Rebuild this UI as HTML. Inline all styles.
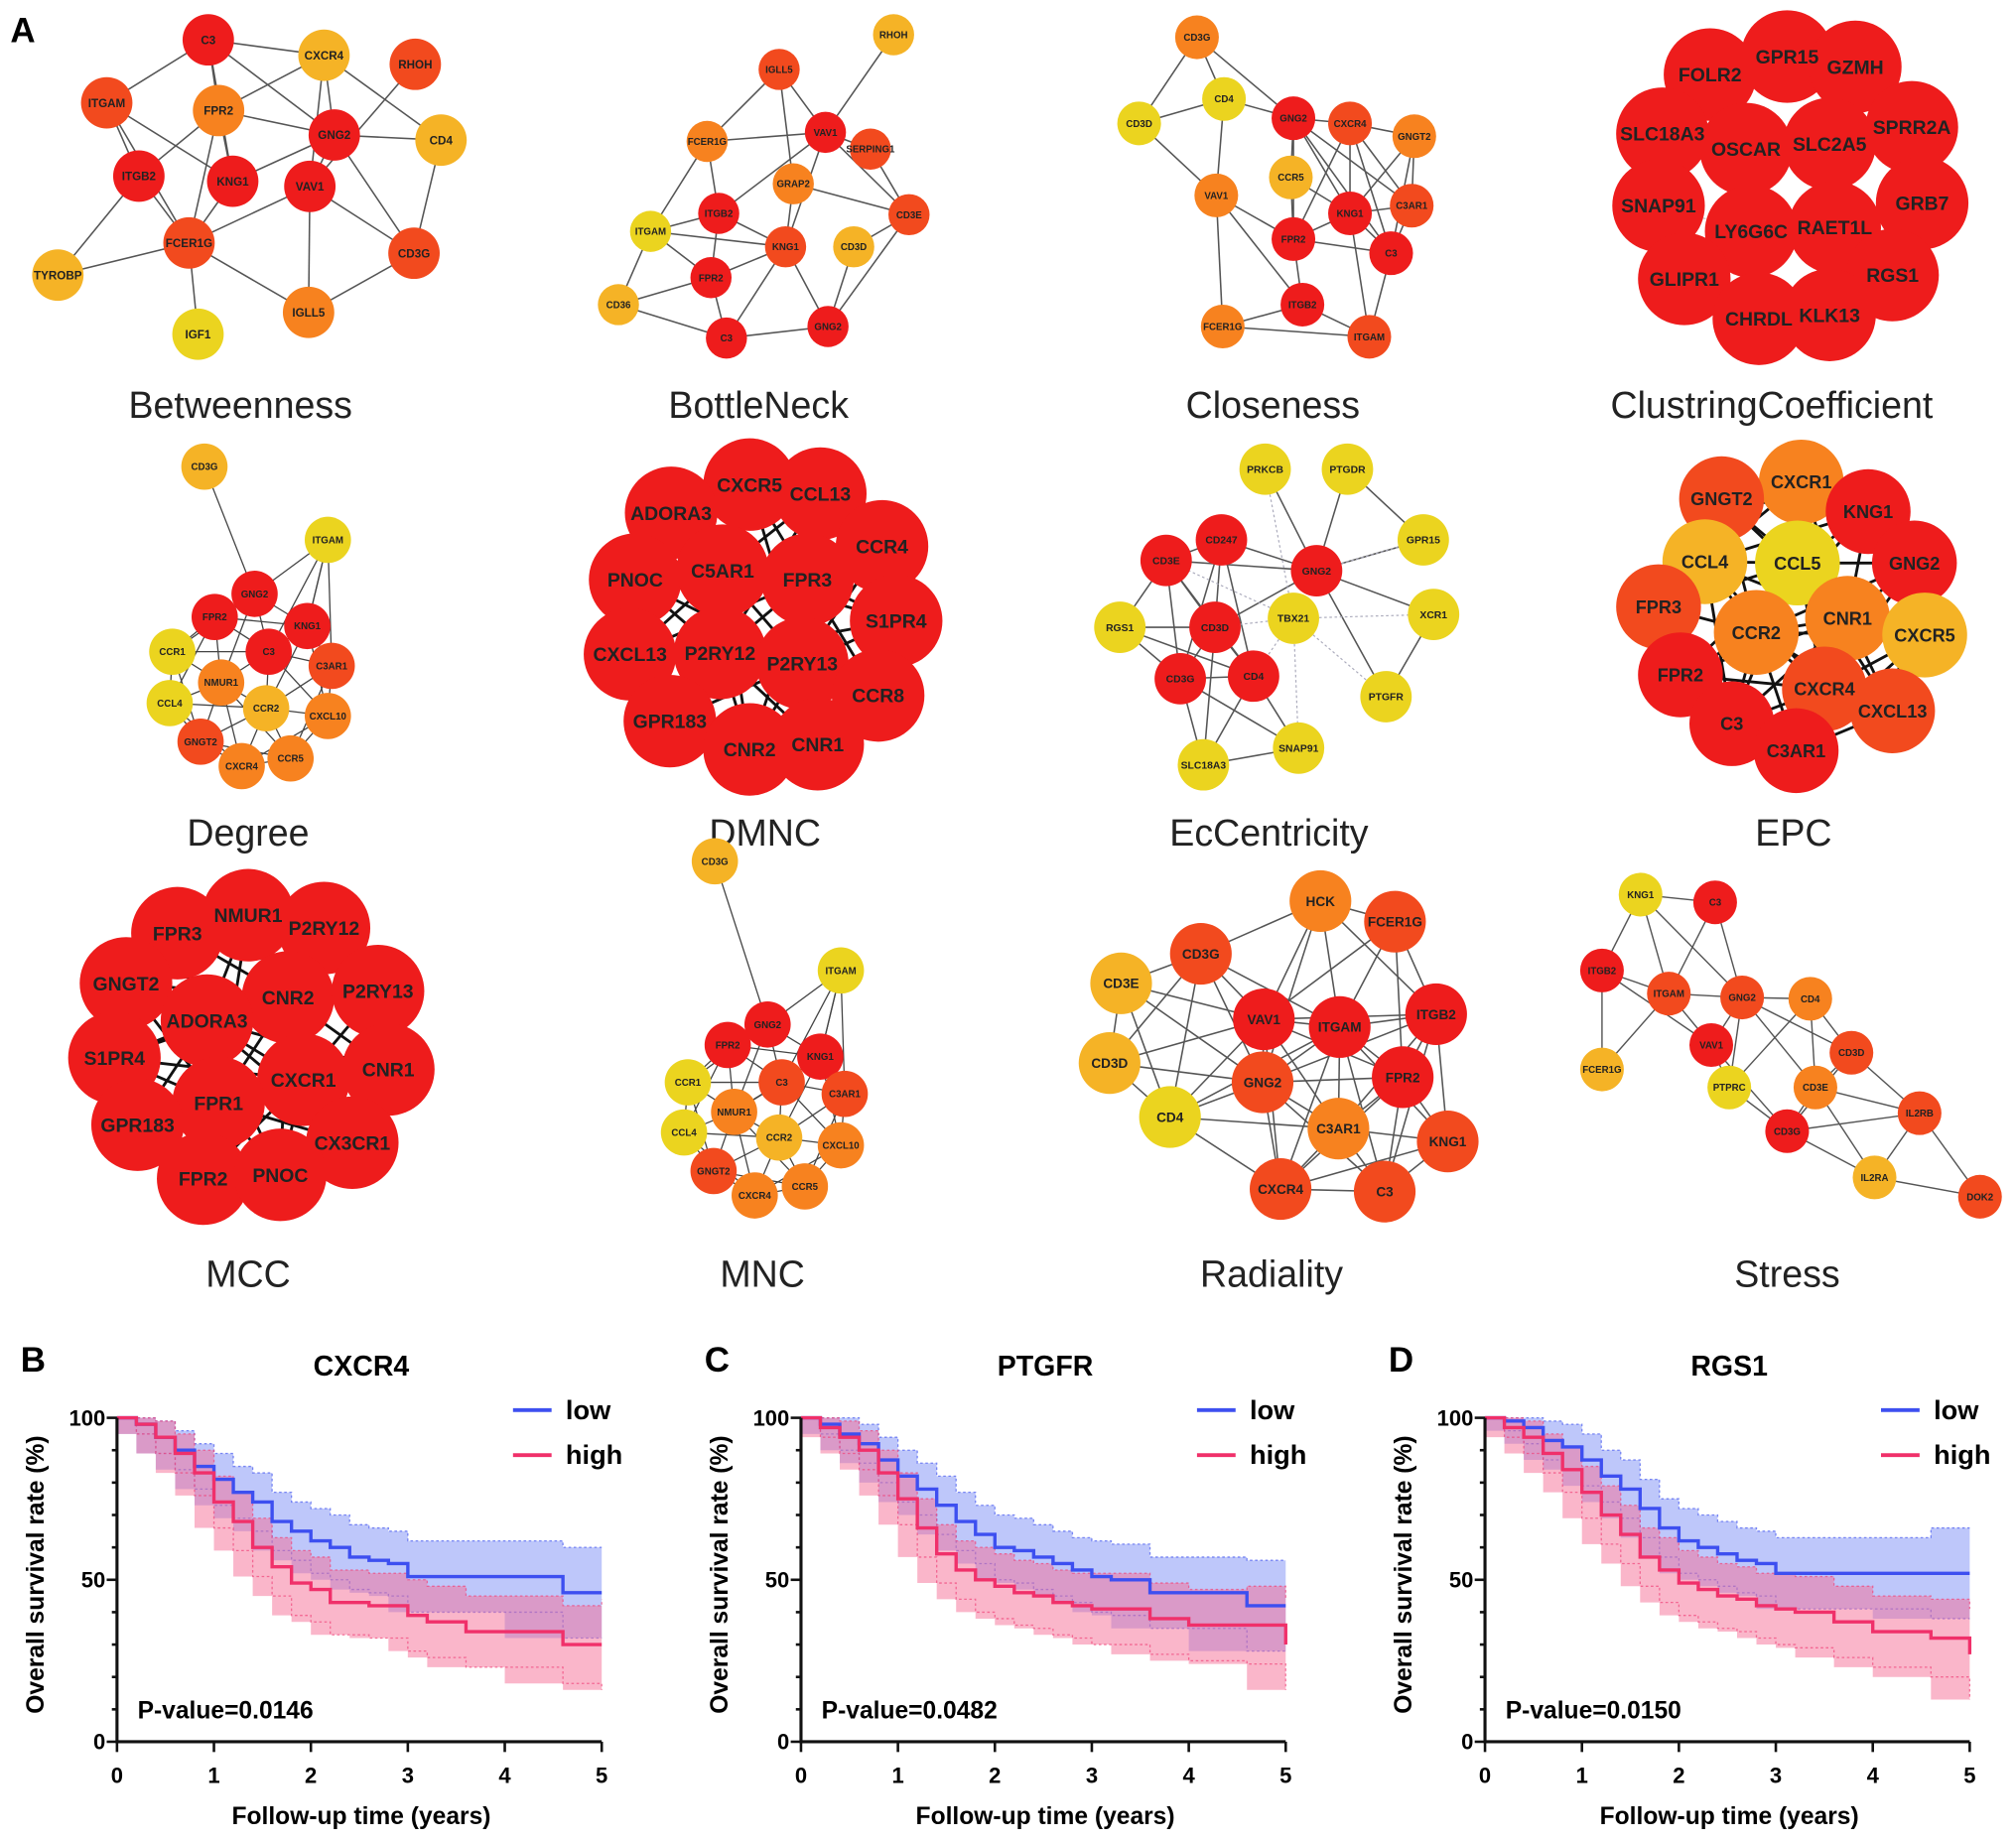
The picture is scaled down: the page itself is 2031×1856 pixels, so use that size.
<!DOCTYPE html>
<html><head><meta charset="utf-8"><style>
html,body{margin:0;padding:0;background:#fff}
svg{display:block}
text{font-family:"Liberation Sans",Arial,sans-serif}
</style></head><body>
<svg id="fig" width="2031" height="1856" viewBox="0 0 1568 1433" preserveAspectRatio="none" xmlns="http://www.w3.org/2000/svg">
<g id="nets"></g>
<g id="kms"></g>
<text x="8" y="33" font-size="27" font-weight="bold">A</text>
</svg>
<script>
const NS="http://www.w3.org/2000/svg";
const COL={R:'#ee1c1c',OR:'#f24a1e',O:'#f7821f',YO:'#f5b326',Y:'#ebd41f'};
function mk(tag,attrs,parent){const e=document.createElementNS(NS,tag);for(const k in attrs)e.setAttribute(k,attrs[k]);parent.appendChild(e);return e;}

const panels=[
{title:'Betweenness',tx:187,ty:325,r:20,fs:9,sw:1.2,nodes:[['C3',162,31,'R'],['CXCR4',252,43,'YO'],['RHOH',323,50,'OR'],['ITGAM',83,80,'OR'],['FPR2',170,86,'O'],['GNG2',260,105,'R'],['CD4',343,109,'YO'],['ITGB2',108,137,'R'],['KNG1',181,141,'R'],['VAV1',241,145,'R'],['FCER1G',147,189,'OR'],['CD3G',322,197,'OR'],['TYROBP',45,214,'YO'],['IGLL5',240,243,'O'],['IGF1',154,260,'Y']],
edges:[['C3','ITGAM'],['C3','FPR2'],['C3','CXCR4'],['C3','GNG2'],['C3','KNG1'],['CXCR4','GNG2'],['CXCR4','FPR2'],['CXCR4','CD4'],['CXCR4','VAV1'],['GNG2','CD4'],['GNG2','FPR2'],['GNG2','VAV1'],['GNG2','KNG1'],['RHOH','VAV1'],['ITGAM','ITGB2'],['ITGAM','FCER1G'],['ITGAM','KNG1'],['ITGB2','FCER1G'],['ITGB2','TYROBP'],['ITGB2','FPR2'],['FPR2','KNG1'],['FPR2','FCER1G'],['KNG1','FCER1G'],['VAV1','FCER1G'],['VAV1','CD3G'],['VAV1','IGLL5'],['CD4','CD3G'],['GNG2','CD3G'],['FCER1G','TYROBP'],['FCER1G','IGF1'],['FCER1G','IGLL5'],['CD3G','IGLL5']]},
{title:'BottleNeck',tx:590,ty:325,r:16,fs:7.5,sw:1.2,nodes:[['RHOH',695,27,'YO'],['IGLL5',606,54,'OR'],['VAV1',642,103,'R'],['SERPING1',677,116,'OR'],['FCER1G',550,110,'O'],['GRAP2',617,143,'O'],['CD3E',707,167,'OR'],['ITGB2',559,166,'R'],['ITGAM',506,180,'Y'],['KNG1',611,192,'OR'],['CD3D',664,192,'YO'],['FPR2',553,216,'R'],['CD36',481,237,'YO'],['C3',565,263,'R'],['GNG2',644,254,'R']],
edges:[['RHOH','VAV1'],['IGLL5','FCER1G'],['IGLL5','VAV1'],['IGLL5','GRAP2'],['VAV1','SERPING1'],['VAV1','FCER1G'],['VAV1','CD3E'],['VAV1','ITGB2'],['VAV1','KNG1'],['FCER1G','ITGB2'],['FCER1G','ITGAM'],['SERPING1','CD3E'],['GRAP2','CD3E'],['GRAP2','KNG1'],['CD3E','CD3D'],['CD3E','GNG2'],['ITGB2','ITGAM'],['ITGB2','FPR2'],['ITGB2','KNG1'],['ITGAM','FPR2'],['ITGAM','CD36'],['ITGAM','KNG1'],['KNG1','FPR2'],['KNG1','C3'],['KNG1','GNG2'],['CD3D','GNG2'],['FPR2','C3'],['FPR2','CD36'],['C3','GNG2'],['C3','CD36']]},
{title:'Closeness',tx:990,ty:325,r:17,fs:7.5,sw:1.2,nodes:[['CD3G',931,29,'O'],['CD4',952,77,'Y'],['CD3D',886,96,'Y'],['GNG2',1006,92,'R'],['CXCR4',1050,96,'OR'],['GNGT2',1100,106,'O'],['CCR5',1004,138,'YO'],['VAV1',946,152,'O'],['C3AR1',1098,160,'OR'],['KNG1',1050,166,'R'],['FPR2',1006,186,'R'],['C3',1082,197,'R'],['ITGB2',1013,237,'R'],['FCER1G',951,254,'O'],['ITGAM',1065,262,'OR']],
edges:[['CD3G','CD4'],['CD3G','CD3D'],['CD3G','GNG2'],['CD4','CD3D'],['CD4','GNG2'],['CD4','VAV1'],['CD3D','VAV1'],['GNG2','CXCR4'],['GNG2','CCR5'],['GNG2','KNG1'],['GNG2','FPR2'],['GNG2','C3'],['GNG2','C3AR1'],['CXCR4','GNGT2'],['CXCR4','KNG1'],['CXCR4','C3AR1'],['CXCR4','FPR2'],['CXCR4','C3'],['GNGT2','KNG1'],['GNGT2','C3AR1'],['CCR5','KNG1'],['CCR5','FPR2'],['C3AR1','KNG1'],['C3AR1','C3'],['KNG1','FPR2'],['KNG1','C3'],['FPR2','ITGB2'],['FPR2','C3'],['C3','ITGAM'],['ITGB2','ITGAM'],['ITGB2','FCER1G'],['FCER1G','ITGAM'],['VAV1','FCER1G'],['VAV1','FPR2'],['VAV1','ITGB2'],['KNG1','ITGAM'],['GNGT2','C3']]},
{title:'ClustringCoefficient',tx:1378,ty:325,r:36,fs:15,sw:0.8,auto:75,ecol:'#bbb',dash:'2,2',nodes:[['GPR15',1390,44,'R'],['FOLR2',1330,58,'R'],['GZMH',1443,52,'R'],['SLC18A3',1293,104,'R'],['SPRR2A',1487,99,'R'],['OSCAR',1358,116,'R'],['SLC2A5',1423,112,'R'],['SNAP91',1290,160,'R'],['GRB7',1495,158,'R'],['LY6G6C',1362,180,'R'],['RAET1L',1427,177,'R'],['GLIPR1',1310,217,'R'],['RGS1',1472,214,'R'],['CHRDL',1368,248,'R'],['KLK13',1423,245,'R']]},
{title:'Degree',tx:193,ty:658,r:18,fs:7.5,sw:1,auto:80,ecol:'#444',nodes:[['CD3G',159,363,'YO'],['ITGAM',255,420,'Y'],['GNG2',198,462,'R'],['FPR2',167,480,'R'],['KNG1',239,487,'R'],['C3',209,507,'R'],['CCR1',134,507,'Y'],['C3AR1',258,518,'OR'],['NMUR1',172,531,'O'],['CCL4',132,547,'Y'],['CCR2',207,551,'YO'],['CXCL10',255,557,'O'],['GNGT2',156,577,'OR'],['CCR5',226,590,'O'],['CXCR4',188,596,'O']],
extra:[['CD3G','GNG2'],['ITGAM','KNG1'],['ITGAM','C3'],['ITGAM','C3AR1']]},
{title:'DMNC',tx:595,ty:658,r:36,fs:15,sw:2.2,auto:150,ecol:'#111',nodes:[['CXCR5',583,377,'R'],['CCL13',638,384,'R'],['ADORA3',522,399,'R'],['CCR4',686,425,'R'],['PNOC',494,451,'R'],['C5AR1',562,444,'R'],['FPR3',628,451,'R'],['S1PR4',697,483,'R'],['CXCL13',490,509,'R'],['P2RY12',560,508,'R'],['P2RY13',624,516,'R'],['CCR8',683,541,'R'],['GPR183',521,561,'R'],['CNR2',583,583,'R'],['CNR1',636,579,'R']]},
{title:'EcCentricity',tx:987,ty:658,r:20,fs:8,sw:1.2,nodes:[['PRKCB',984,365,'Y'],['PTGDR',1048,365,'Y'],['CD247',950,420,'R'],['GPR15',1107,420,'Y'],['CD3E',907,436,'R'],['GNG2',1024,444,'R'],['RGS1',871,488,'Y'],['CD3D',945,488,'R'],['TBX21',1006,481,'Y'],['XCR1',1115,478,'Y'],['CD3G',918,528,'R'],['CD4',975,526,'R'],['PTGFR',1078,542,'Y'],['SNAP91',1010,582,'Y'],['SLC18A3',936,595,'Y']],
edges:[['CD3E','CD247'],['CD3E','CD3D'],['CD3E','CD3G'],['CD3E','RGS1'],['CD3E','CD4'],['CD3E','GNG2'],['CD247','CD3D'],['CD247','CD4'],['CD247','GNG2'],['CD247','CD3G'],['CD3D','CD3G'],['CD3D','CD4'],['CD3G','CD4'],['RGS1','CD3D'],['RGS1','CD3G'],['RGS1','CD4'],['CD4','SLC18A3'],['CD4','SNAP91'],['CD3G','SLC18A3'],['CD3G','SNAP91'],['SLC18A3','SNAP91'],['GNG2','PRKCB'],['GNG2','PTGDR'],['GNG2','GPR15'],['GNG2','XCR1'],['GNG2','PTGFR'],['GNG2','CD3D'],['PTGDR','GPR15'],['XCR1','PTGFR'],['CD3D','SLC18A3']],
dashed:[['TBX21','PRKCB'],['TBX21','XCR1'],['TBX21','SNAP91'],['TBX21','PTGFR'],['TBX21','CD3D'],['TBX21','CD4'],['TBX21','CD3E'],['GNG2','GPR15']]},
{title:'EPC',tx:1395,ty:658,r:33,fs:14,sw:2.2,auto:140,ecol:'#111',nodes:[['CXCR1',1401,375,'O'],['GNGT2',1339,388,'OR'],['KNG1',1453,398,'R'],['CCL4',1326,437,'YO'],['CCL5',1398,438,'Y'],['GNG2',1489,438,'R'],['FPR3',1290,472,'OR'],['CNR1',1437,481,'O'],['CCR2',1366,492,'O'],['CXCR5',1497,494,'YO'],['FPR2',1307,525,'R'],['CXCR4',1419,536,'OR'],['CXCL13',1472,553,'OR'],['C3',1347,563,'R'],['C3AR1',1397,584,'R']]},
{title:'MCC',tx:193,ty:1001,r:36,fs:15,sw:2.2,auto:150,ecol:'#111',nodes:[['NMUR1',193,712,'R'],['FPR3',138,726,'R'],['P2RY12',252,722,'R'],['GNGT2',98,765,'R'],['CNR2',224,776,'R'],['P2RY13',294,771,'R'],['ADORA3',161,794,'R'],['S1PR4',89,823,'R'],['CNR1',302,832,'R'],['CXCR1',236,840,'R'],['FPR1',170,858,'R'],['GPR183',107,875,'R'],['CX3CR1',274,889,'R'],['FPR2',158,917,'R'],['PNOC',218,914,'R']]},
{title:'MNC',tx:593,ty:1001,r:18,fs:7.5,sw:1,auto:80,ecol:'#444',nodes:[['CD3G',556,670,'YO'],['ITGAM',654,755,'Y'],['GNG2',597,797,'R'],['FPR2',566,813,'R'],['KNG1',638,822,'R'],['C3',608,842,'OR'],['CCR1',535,842,'Y'],['C3AR1',657,851,'OR'],['NMUR1',571,865,'O'],['CCL4',532,881,'Y'],['CCR2',606,885,'YO'],['CXCL10',654,891,'O'],['GNGT2',555,911,'OR'],['CCR5',626,923,'O'],['CXCR4',587,930,'O']],
extra:[['CD3G','GNG2'],['ITGAM','KNG1'],['ITGAM','C3'],['ITGAM','C3AR1']]},
{title:'Radiality',tx:989,ty:1001,r:24,fs:10.5,sw:1.2,auto:150,ecol:'#555',nodes:[['HCK',1027,701,'O'],['FCER1G',1085,717,'OR'],['CD3G',934,742,'OR'],['CD3E',872,765,'YO'],['VAV1',983,793,'R'],['ITGAM',1042,799,'R'],['ITGB2',1117,789,'R'],['CD3D',863,827,'YO'],['GNG2',982,842,'OR'],['FPR2',1091,838,'R'],['CD4',910,869,'Y'],['C3AR1',1041,878,'O'],['KNG1',1126,888,'OR'],['CXCR4',996,925,'OR'],['C3',1077,927,'OR']]},
{title:'Stress',tx:1390,ty:1001,r:17,fs:7.5,sw:1.1,nodes:[['KNG1',1276,696,'Y'],['C3',1334,702,'R'],['ITGB2',1246,755,'R'],['ITGAM',1298,773,'OR'],['GNG2',1355,776,'OR'],['CD4',1408,777,'O'],['VAV1',1331,813,'R'],['CD3D',1440,819,'OR'],['FCER1G',1246,832,'YO'],['PTPRC',1345,846,'Y'],['CD3E',1412,846,'O'],['CD3G',1390,880,'R'],['IL2RB',1493,866,'OR'],['IL2RA',1458,916,'YO'],['DOK2',1540,931,'OR']],
edges:[['KNG1','C3'],['KNG1','ITGB2'],['KNG1','ITGAM'],['KNG1','GNG2'],['C3','ITGAM'],['C3','GNG2'],['ITGB2','ITGAM'],['ITGB2','FCER1G'],['ITGB2','VAV1'],['ITGAM','FCER1G'],['ITGAM','VAV1'],['ITGAM','GNG2'],['GNG2','CD4'],['GNG2','VAV1'],['GNG2','CD3D'],['GNG2','PTPRC'],['GNG2','CD3E'],['CD4','CD3D'],['CD4','CD3E'],['CD4','PTPRC'],['VAV1','PTPRC'],['VAV1','CD3G'],['CD3D','CD3E'],['CD3D','CD3G'],['CD3D','IL2RB'],['CD3E','CD3G'],['CD3E','IL2RB'],['CD3E','IL2RA'],['PTPRC','CD3G'],['CD3G','IL2RA'],['IL2RB','IL2RA'],['IL2RB','DOK2'],['IL2RA','DOK2'],['CD3G','IL2RB']]}
];

const nets=document.getElementById('nets');
panels.forEach((p,pi)=>{
  const g=mk('g',{},nets);
  
  
  const idx={};p.nodes.forEach(n=>idx[n[0]]=n);
  let list=[];
  if(p.auto){for(let i=0;i<p.nodes.length;i++)for(let j=i+1;j<p.nodes.length;j++){const a=p.nodes[i],b=p.nodes[j];if(Math.hypot(a[1]-b[1],a[2]-b[2])<p.auto)list.push([a[0],b[0]]);}}
  if(p.edges)list=list.concat(p.edges);
  if(p.extra)list=list.concat(p.extra);
  const eg=mk('g',{},g);
  
  
  list.forEach(e=>{const a=idx[e[0]],b=idx[e[1]];
    const l=mk('line',{x1:a[1],y1:a[2],x2:b[1],y2:b[2],stroke:p.ecol||'#555','stroke-width':p.sw},eg);
    if(p.dash)l.setAttribute('stroke-dasharray',p.dash);
    
    });
  (p.dashed||[]).forEach(e=>{const a=idx[e[0]],b=idx[e[1]];
    const l=mk('line',{x1:a[1],y1:a[2],x2:b[1],y2:b[2],stroke:'#aab','stroke-width':0.9,'stroke-dasharray':'2,2'},eg);
    
    });
  p.nodes.forEach(n=>{
    const c=mk('circle',{cx:n[1],cy:n[2],r:p.r,fill:COL[n[3]]},g);
    
    
  });
  p.nodes.forEach(n=>{
    const t=mk('text',{x:n[1],y:n[2]+p.fs*0.36,'font-size':p.fs,'font-weight':'bold','text-anchor':'middle',fill:'#222'},g);
    t.textContent=n[0];
    
    
  });
  const tt=mk('text',{x:p.tx,y:p.ty,'font-size':29,'text-anchor':'middle',fill:'#222'},g);
  tt.textContent=p.title;
  
  
});

// ---- Kaplan-Meier data ----
const kmTimes=[0,0.2,0.4,0.6,0.8,1.0,1.2,1.4,1.6,1.8,2.0,2.2,2.4,2.6,2.8,3.0,3.2,3.6,4.0,4.6,5.0];
const xTicks=[0,1,2,3,4,5];
const yTicks=[0,50,100];
const lowCI=[0,3,5,6,7,8,8,9,9,9,10,10,10,10,10,11,11,11,11,14,14];
const highCI=[0,3,5,6,7,8,9,9,9,10,10,10,10,10,10,11,11,11,11,12,14];
const bLow=[100,98,94,90,85,81,77,74,68,65,62,60,57,56,55,51,51,51,51,46,46];
const bHigh=[100,98,94,89,83,74,68,60,54,49,47,43,43,42,42,39,37,34,34,30,30];
const cLow=[100,98,95,92,87,82,78,73,68,64,60,59,57,55,53,51,50,46,46,42,42];
const cHigh=[100,97,94,90,83,75,66,58,53,50,48,46,45,43,42,41,41,38,36,36,30];
const dLow=[100,99,97,93,91,87,82,78,72,66,62,60,58,56,55,52,52,52,52,52,52];
const dHigh=[100,97,94,89,84,77,70,64,57,53,49,47,45,44,42,41,40,37,34,32,27];
const kmGenes=['CXCR4','PTGFR','RGS1'];
const kmLetters=['B','C','D'];
const kmP=['P-value=0.0146','P-value=0.0482','P-value=0.0150'];
const kmLowSeries=[bLow,cLow,dLow];
const kmHighSeries=[bHigh,cHigh,dHigh];

const kms=document.getElementById('kms');
const origins=[91,623,1155];
const W=377,Y0=1355,H=252;
function stepPath(xs,ys){let d='M'+xs[0]+','+ys[0];for(let i=1;i<xs.length;i++){d+=' H'+xs[i]+' V'+ys[i];}return d;}
origins.forEach((ox,k)=>{
  const g=mk('g',{},kms);
  
  
  const X=t=>ox+t/5*W, Y=v=>Y0-v/100*H;
  const xs=kmTimes.map(X);
  [[kmLowSeries[k],lowCI,'#4a5cf0','rgba(110,130,245,0.45)','low'],[kmHighSeries[k],highCI,'#f0457a','rgba(245,110,150,0.5)','high']].forEach(s=>{
    const up=s[0].map((v,i)=>Y(Math.min(100,v+s[1][i]))), lo=s[0].map((v,i)=>Y(Math.max(0,v-s[1][i])));
    let d='M'+xs[0]+','+up[0];for(let i=1;i<xs.length;i++)d+=' H'+xs[i]+' V'+up[i];
    for(let i=xs.length-1;i>0;i--)d+=' V'+lo[i]+' H'+xs[i-1];d+=' V'+lo[0]+' Z';
    const band=mk('path',{d:d,fill:s[3],stroke:'none'},g);
    
    
    ['up','lo'].forEach(w=>{const ln=mk('path',{d:stepPath(xs,w==='up'?up:lo),fill:'none',stroke:s[2],'stroke-width':1,'stroke-dasharray':'2,2',opacity:0.7},g);
      
      });
  });
  [[kmLowSeries[k],'#3d4ff0','low'],[kmHighSeries[k],'#f0306a','high']].forEach(s=>{
    const ln=mk('path',{d:stepPath(xs,s[0].map(Y)),fill:'none',stroke:s[1],'stroke-width':2.6},g);
    
    
  });
  const ax=mk('path',{d:`M${ox},${Y0-H} V${Y0} H${ox+W}`,fill:'none',stroke:'#111','stroke-width':2.4},g);
  
  
  for(let v=0;v<=100;v+=10){const l=mk('line',{x1:ox-(v%50?4:8),x2:ox,y1:Y(v),y2:Y(v),stroke:'#111','stroke-width':2},g);
    
    }
  yTicks.forEach(v=>{const t=mk('text',{x:ox-9,y:Y(v)+6,'font-size':17,'font-weight':'bold','text-anchor':'end'},g);t.textContent=v;
    
    });
  xTicks.forEach(v=>{const l=mk('line',{x1:X(v),x2:X(v),y1:Y0,y2:Y0+8,stroke:'#111','stroke-width':2},g);
    
    
    const t=mk('text',{x:X(v),y:Y0+32,'font-size':17,'font-weight':'bold','text-anchor':'middle'},g);t.textContent=v;
    
    });
  const xl=mk('text',{x:ox+190,y:1419,'font-size':19,'font-weight':'bold','text-anchor':'middle'},g);xl.textContent='Follow-up time (years)';
  
  
  const yl=mk('text',{x:0,y:0,'font-size':19,'font-weight':'bold','text-anchor':'middle',transform:`translate(${ox-57},1225) rotate(-90)`},g);yl.textContent='Overall survival rate (%)';
  
  
  const ti=mk('text',{x:ox+190,y:1070,'font-size':22,'font-weight':'bold','text-anchor':'middle'},g);ti.textContent=kmGenes[k];
  
  
  const le=mk('text',{x:ox-75,y:1067,'font-size':27,'font-weight':'bold'},g);le.textContent=kmLetters[k];
  
  
  const pv=mk('text',{x:ox+16,y:1337,'font-size':19,'font-weight':'bold'},g);pv.textContent=kmP[k];
  
  
  [['low',1097,'#3d4ff0'],['high',1132,'#f0306a']].forEach(L=>{
    const lg=mk('line',{x1:ox+308,x2:ox+338,y1:L[1],y2:L[1],stroke:L[2],'stroke-width':3},g);
    
    
    const lt=mk('text',{x:ox+349,y:L[1]+7,'font-size':21,'font-weight':'bold'},g);lt.textContent=L[0];
    
    
  });
});
</script>
</body></html>
